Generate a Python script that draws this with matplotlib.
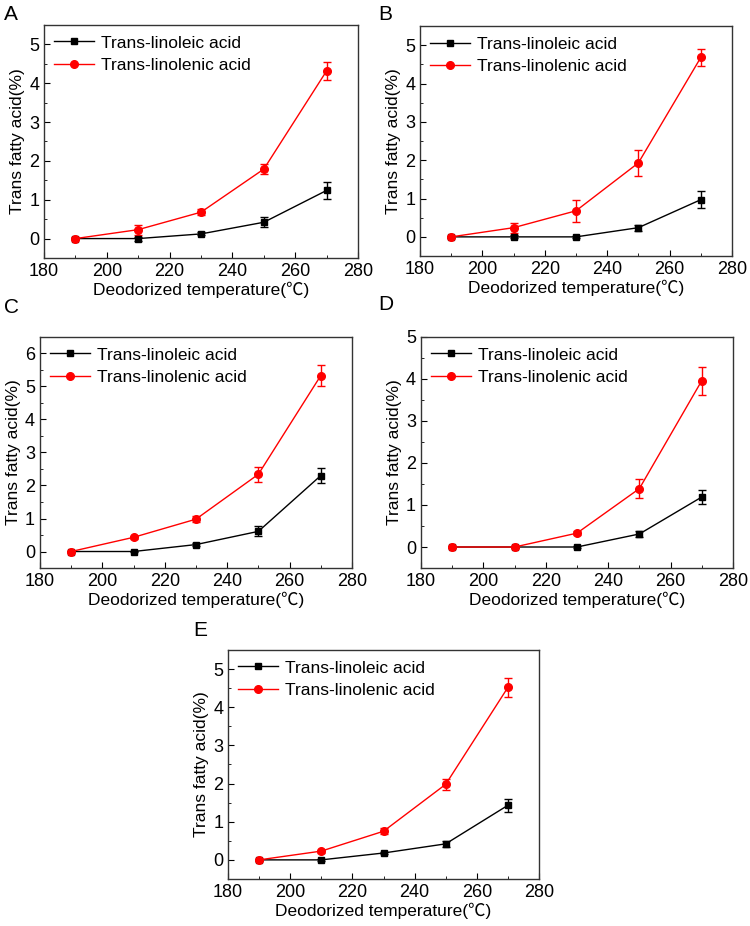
import numpy as np
import matplotlib.pyplot as plt
from matplotlib.ticker import MultipleLocator

plt.rcParams['font.family'] = ['Liberation Sans', 'Noto Sans CJK SC', 'DejaVu Sans']

temps = [190, 210, 230, 250, 270]

# panel A
a_lin = [0, 0, 0.12, 0.42, 1.24]
a_lin_err = [0.02, 0.05, 0.04, 0.13, 0.22]
a_len = [0, 0.23, 0.68, 1.79, 4.32]
a_len_err = [0.03, 0.13, 0.07, 0.12, 0.23]

# panel B
b_lin = [0, 0, 0, 0.24, 0.97]
b_lin_err = [0.02, 0.04, 0.03, 0.08, 0.22]
b_len = [0, 0.24, 0.68, 1.93, 4.68]
b_len_err = [0.03, 0.13, 0.29, 0.33, 0.21]

# panel C
c_lin = [0, 0, 0.21, 0.61, 2.30]
c_lin_err = [0.02, 0.03, 0.04, 0.15, 0.23]
c_len = [0, 0.43, 0.98, 2.34, 5.33]
c_len_err = [0.03, 0.05, 0.10, 0.23, 0.32]

# panel D
d_lin = [0, 0, 0, 0.31, 1.19]
d_lin_err = [0.02, 0.02, 0.03, 0.08, 0.17]
d_len = [0, 0, 0.33, 1.39, 3.96]
d_len_err = [0.02, 0.02, 0.05, 0.22, 0.33]

# panel E
e_lin = [0, 0, 0.18, 0.42, 1.43]
e_lin_err = [0.02, 0.03, 0.03, 0.07, 0.17]
e_len = [0, 0.23, 0.75, 1.98, 4.52]
e_len_err = [0.03, 0.04, 0.08, 0.14, 0.24]

W, H = 750, 926

# name, data, ylim, axes rect, letter position (pixels, baseline)
panels = [
    ('A', a_lin, a_lin_err, a_len, a_len_err, (-0.5, 5.5), [0.0587, 0.7214, 0.4187, 0.2516], (4, 20)),
    ('B', b_lin, b_lin_err, b_len, b_len_err, (-0.5, 5.5), [0.560, 0.7235, 0.416, 0.2484], (378, 20)),
    ('C', c_lin, c_lin_err, c_len, c_len_err, (-0.5, 6.5), [0.0533, 0.3866, 0.416, 0.2495], (4, 313)),
    ('D', d_lin, d_lin_err, d_len, d_len_err, (-0.5, 5.0), [0.5613, 0.3866, 0.416, 0.2495], (378, 310)),
    ('E', e_lin, e_lin_err, e_len, e_len_err, (-0.5, 5.5), [0.304, 0.0508, 0.4147, 0.2473], (193, 636)),
]

fig = plt.figure(figsize=(7.5, 9.26), dpi=100)

for name, lin, lin_err, len_, len_err, ylim, pos, lpos in panels:
    ax = fig.add_axes(pos)
    ax.errorbar(temps, lin, yerr=lin_err, fmt='none', ecolor='black', elinewidth=1, capsize=3)
    ax.errorbar(temps, len_, yerr=len_err, fmt='none', ecolor='red', elinewidth=1, capsize=3)
    ax.plot(temps, lin, color='black', marker='s', markersize=5, linewidth=1,
            label='Trans-linoleic acid')
    ax.plot(temps, len_, color='red', marker='o', markersize=5.5, linewidth=1,
            label='Trans-linolenic acid')
    ax.set_xlim(180, 280)
    ax.set_ylim(*ylim)
    ax.xaxis.set_major_locator(MultipleLocator(20))
    ax.xaxis.set_minor_locator(MultipleLocator(10))
    ax.yaxis.set_major_locator(MultipleLocator(1))
    ax.yaxis.set_minor_locator(MultipleLocator(0.5))
    ax.tick_params(which='both', direction='in', top=False, right=False, labelsize=13)
    ax.tick_params(which='major', length=4)
    ax.tick_params(which='minor', length=2.5)
    for s in ax.spines.values():
        s.set_color('#333333')
        s.set_linewidth(1)
    ax.set_xlabel('Deodorized temperature(℃)', fontsize=12.5, labelpad=1)
    ax.set_ylabel('Trans fatty acid(%)', fontsize=12.5, labelpad=3)
    ax.legend(loc='upper left', bbox_to_anchor=(0, 1), frameon=False, fontsize=12.5,
              borderaxespad=0.2, handletextpad=0.4, labelspacing=0.4, handlelength=2.3)
    fig.text(lpos[0] / W, 1 - lpos[1] / H, name, fontsize=15, va='baseline', ha='left')

fig.savefig('out.png', dpi=100)
